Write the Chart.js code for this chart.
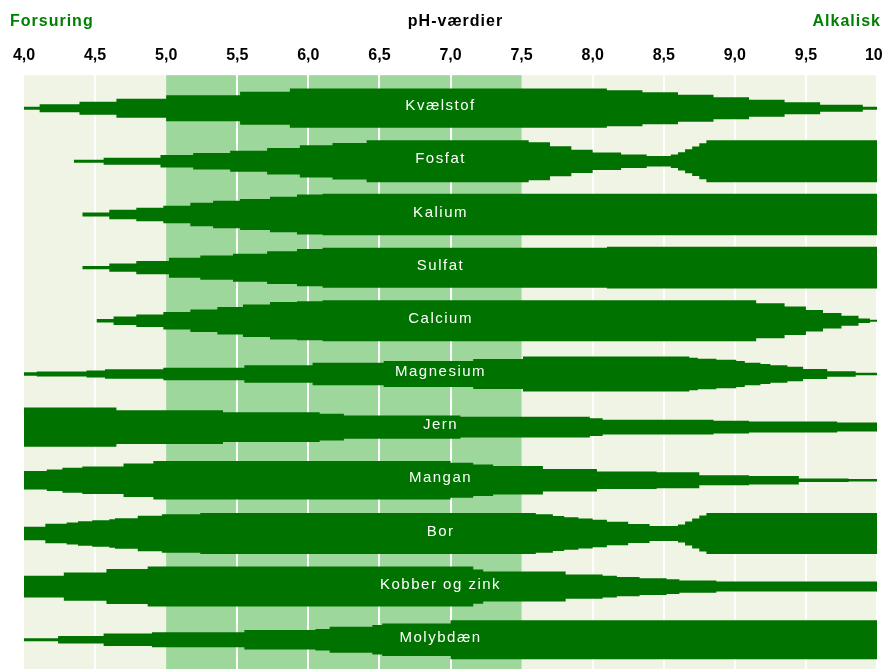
<!DOCTYPE html>
<html>
<head>
<meta charset="utf-8">
<script src="https://cdn.jsdelivr.net/npm/chart.js@4/dist/chart.umd.min.js"></script>
<style>
  html, body { margin: 0; padding: 0; background: #ffffff; }
  #wrap { width: 885px; height: 669px; }
</style>
</head>
<body>
<div id="wrap"><canvas id="myChart" width="885" height="669"></canvas></div>
<script>
// nutrient rows, top to bottom
const nutrients = ['Kvælstof', 'Fosfat', 'Kalium', 'Sulfat', 'Calcium', 'Magnesium',
    'Jern', 'Mangan', 'Bor', 'Kobber og zink', 'Molybdæn'];

// availability profile per nutrient: [pH, level] - level holds until next pH
const kvaelstof = [[4.0,0.75],[4.11,2],[4.39,3.25],[4.65,4.75],[5.0,6.5],[5.52,8.25],[5.87,9.85],
    [8.1,9],[8.35,8],[8.6,6.75],[8.85,5.5],[9.1,4.25],[9.35,3],[9.6,1.75],[9.9,0.75],[10,0.75]];
const fosfat = [[4.35,0.75],[4.56,1.75],[4.96,3.1],[5.19,4.15],[5.45,5.25],[5.71,6.65],[5.94,8.1],
    [6.17,9.15],[6.41,10.5],[7.55,9.5],[7.7,7.5],[7.85,5.85],[8.0,4.35],[8.2,3.35],[8.38,2.65],
    [8.55,3.4],[8.6,4.6],[8.65,6],[8.7,7.4],[8.75,9],[8.8,10.5],[10,10.5]];
const kalium = [[4.41,1],[4.6,2.35],[4.79,3.35],[4.98,4.4],[5.17,5.85],[5.33,6.85],[5.52,7.75],
    [5.73,8.9],[5.92,10],[6.1,10.35],[10,10.35]];
const sulfat = [[4.41,0.85],[4.6,2.1],[4.79,3.35],[5.02,5],[5.24,6.1],[5.47,7],[5.71,8.15],
    [5.92,9.35],[6.1,10],[8.1,10.4],[10,10.4]];
const calcium = [[4.51,0.85],[4.63,2.1],[4.79,3.15],[4.98,4.4],[5.17,5.65],[5.36,6.9],[5.54,8.1],
    [5.73,9.4],[5.92,9.75],[6.1,10.25],[9.15,8.75],[9.35,7.1],[9.5,5.4],[9.62,3.9],[9.75,2.5],
    [9.87,1.15],[9.95,0.5],[10,0.5]];
const magnesium = [[4.0,0.85],[4.09,1.25],[4.44,1.75],[4.57,2.35],[4.98,3.1],[5.55,4.35],[6.03,5.65],
    [6.53,6.5],[7.16,7.5],[7.51,8.75],[8.68,8.1],[8.74,7.65],[8.87,7.1],[9.01,6.5],[9.07,5.65],
    [9.18,5],[9.25,4.4],[9.37,3.6],[9.48,2.5],[9.65,1.4],[9.85,0.6],[10,0.6]];
const jern = [[4.0,9.85],[4.65,8.5],[5.4,7.5],[6.08,6.65],[6.25,5.85],[7.07,5.25],[7.98,4.4],
    [8.07,3.75],[8.85,3.15],[9.1,2.75],[9.72,2.25],[10,2.25]];
const mangan = [[4.0,4.6],[4.16,5.4],[4.27,6.25],[4.41,6.85],[4.7,8.35],[4.91,9.6],[7.0,8.75],
    [7.16,7.9],[7.3,7.1],[7.65,5.6],[8.03,4.4],[8.45,4.0],[8.75,2.5],[9.1,2.1],[9.45,0.85],
    [9.8,0.6],[10,0.6]];
const bor = [[4.0,3.35],[4.15,4.85],[4.3,5.5],[4.38,6.1],[4.48,6.65],[4.6,7.1],[4.64,7.65],[4.8,8.9],
    [4.97,9.6],[5.24,10.25],[7.6,9.6],[7.72,8.75],[7.8,8.1],[7.9,7.5],[8.0,6.9],[8.1,5.85],
    [8.25,4.75],[8.4,3.75],[8.6,4.5],[8.65,6],[8.7,7.5],[8.75,9],[8.8,10.25],[10,10.25]];
const kobberZink = [[4.0,5.4],[4.28,7.1],[4.58,8.75],[4.87,10],[7.16,8.6],[7.23,7.5],[7.81,6.1],
    [8.07,5.4],[8.17,4.85],[8.33,4.15],[8.52,3.65],[8.61,3.1],[8.87,2.5],[10,2.5]];
const molybdaen = [[4.0,0.75],[4.24,1.85],[4.56,3.15],[4.9,3.75],[5.55,4.85],[6.05,5.4],[6.15,6.5],
    [6.45,7.35],[6.52,8.15],[7.0,9.75],[10,9.75]];

const profiles = [kvaelstof, fosfat, kalium, sulfat, calcium, magnesium,
    jern, mangan, bor, kobberZink, molybdaen];

// optimal pH range (light green column)
const optimalRange = [5.0, 7.5];

const DARK = '#007200';
const LEVEL = 0.0376;   // row units per availability level

// two stepped lines per nutrient, filled between them
const datasets = [];
profiles.forEach((prof, i) => {
    datasets.push({
        data: prof.map(p => ({x: p[0], y: i - p[1] * LEVEL})),
        stepped: true,
        borderWidth: 0,
        borderColor: DARK,
        pointRadius: 0,
        fill: false
    });
    datasets.push({
        data: prof.map(p => ({x: p[0], y: i + p[1] * LEVEL})),
        stepped: true,
        borderWidth: 0,
        borderColor: DARK,
        backgroundColor: DARK,
        pointRadius: 0,
        fill: '-1'
    });
});

const backgroundPlugin = {
    id: 'bgBands',
    beforeDraw(chart) {
        const {ctx, chartArea, scales} = chart;
        const x = scales.x;
        ctx.save();
        ctx.fillStyle = '#f0f4e4';
        ctx.fillRect(chartArea.left, chartArea.top, chartArea.right - chartArea.left, chartArea.bottom - chartArea.top);
        ctx.fillStyle = '#9dd79b';
        const x0 = x.getPixelForValue(optimalRange[0]);
        const x1 = x.getPixelForValue(optimalRange[1]);
        ctx.fillRect(x0, chartArea.top, x1 - x0, chartArea.bottom - chartArea.top);
        ctx.restore();
    }
};

const labelsPlugin = {
    id: 'rowLabels',
    afterDatasetsDraw(chart) {
        const {ctx, scales} = chart;
        ctx.save();
        ctx.fillStyle = '#ffffff';
        ctx.font = '15px "Liberation Sans", Arial, sans-serif';
        ctx.letterSpacing = '1.5px';
        ctx.textAlign = 'center';
        ctx.textBaseline = 'middle';
        const lx = scales.x.getPixelForValue(6.93);
        nutrients.forEach((name, i) => {
            ctx.fillText(name, lx, scales.y.getPixelForValue(i) - 2);
        });
        ctx.restore();
    },
    afterDraw(chart) {
        const {ctx, chartArea} = chart;
        ctx.save();
        ctx.font = 'bold 16px "Liberation Sans", Arial, sans-serif';
        ctx.letterSpacing = '1px';
        ctx.textBaseline = 'middle';
        ctx.fillStyle = '#008000';
        ctx.textAlign = 'left';
        ctx.fillText('Forsuring', chartArea.left - 14, 22);
        ctx.textAlign = 'right';
        ctx.fillText('Alkalisk', chartArea.right + 4, 22);
        ctx.fillStyle = '#000000';
        ctx.textAlign = 'center';
        ctx.fillText('pH-værdier', (chartArea.left + chartArea.right) / 2 + 5, 22);
        ctx.restore();
    }
};

var ctx = document.getElementById('myChart').getContext('2d');
var myChart = new Chart(ctx, {
    type: 'line',
    data: {datasets: datasets},
    options: {
        responsive: false,
        animation: false,
        layout: {padding: {top: 36, left: 24, right: 8, bottom: 0}},
        plugins: {legend: {display: false}, tooltip: {enabled: false}},
        scales: {
            x: {
                type: 'linear',
                position: 'top',
                min: 4,
                max: 10,
                border: {display: false},
                grid: {
                    drawTicks: false,
                    lineWidth: 2,
                    color: c => ([4, 5, 7.5].includes(c.tick && c.tick.value) ? 'rgba(0,0,0,0)' : '#ffffff')
                },
                ticks: {
                    stepSize: 0.5,
                    padding: 10,
                    color: '#000000',
                    font: {family: '"Liberation Sans", Arial, sans-serif', size: 16, weight: 'bold'},
                    callback: v => (v === 10 ? '10\u2009\u2009' : v.toFixed(1).replace('.', ','))
                },
                afterFit: s => { s.paddingLeft = 0; s.paddingRight = 0; }
            },
            y: {
                type: 'linear',
                display: false,
                reverse: true,
                min: -0.62,
                max: 10.55
            }
        }
    },
    plugins: [backgroundPlugin, labelsPlugin]
});
</script>
</body>
</html>
